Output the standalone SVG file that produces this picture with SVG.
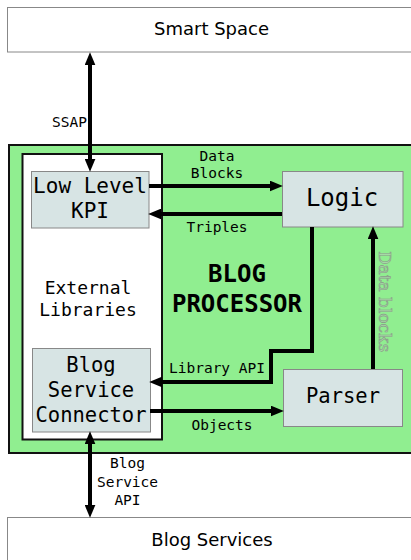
<svg xmlns="http://www.w3.org/2000/svg" width="411" height="560" viewBox="0 0 411 560">
<style>
.ext{fill:#ffffff;stroke:#888888;stroke-width:1}
.comp{fill:#d7e4e4;stroke:#888888;stroke-width:1}
.big{font-family:"DejaVu Sans","Liberation Sans",sans-serif;font-size:18px;fill:#000;text-anchor:middle}
.mono{font-family:"DejaVu Sans Mono","Liberation Mono",monospace;fill:#000;text-anchor:middle}
.lbl{font-family:"DejaVu Sans Mono","Liberation Mono",monospace;font-size:14.5px;fill:#000;text-anchor:middle}
.conn{fill:none;stroke:#000;stroke-width:4}
</style>
<defs>
<marker id="ah" markerUnits="userSpaceOnUse" markerWidth="13" markerHeight="11" refX="2" refY="5" orient="auto-start-reverse" viewBox="0 0 12 10">
<path d="M0,0 L12,5 L0,10 z" fill="#000"/>
</marker>
</defs>
<g id="smart-space">
<rect class="ext" x="7.5" y="7.5" width="420" height="44.5"/>
<text class="big" x="211.5" y="35">Smart Space</text>
</g>
<g id="blog-services">
<rect class="ext" x="7.5" y="517.5" width="420" height="60"/>
<text class="big" x="212" y="546">Blog Services</text>
</g>
<g id="blog-processor">
<rect x="9" y="145" width="420" height="308" fill="#90ee90" stroke="#111" stroke-width="2"/>
<text class="mono" x="237" y="282" font-size="24" font-weight="bold">BLOG</text>
<text class="mono" x="237" y="312" font-size="24" font-weight="bold">PROCESSOR</text>
</g>
<g id="external-libraries">
<rect x="22.5" y="154" width="139.5" height="285.5" fill="#fff" stroke="#111" stroke-width="2"/>
<text class="mono" x="88" y="294" font-size="18">External</text>
<text class="mono" x="88" y="316" font-size="18">Libraries</text>
</g>
<g id="low-level-kpi">
<rect class="comp" x="31.5" y="171.5" width="117.5" height="56.5"/>
<text class="mono" x="90" y="193" font-size="21">Low Level</text>
<text class="mono" x="90" y="218" font-size="21">KPI</text>
</g>
<g id="logic">
<rect class="comp" x="282.5" y="171.5" width="120.5" height="55.5"/>
<text class="mono" x="342" y="206" font-size="24">Logic</text>
</g>
<g id="blog-service-connector">
<rect class="comp" x="32.5" y="348.5" width="118" height="83.5"/>
<text class="mono" x="91" y="372" font-size="20.5">Blog</text>
<text class="mono" x="91" y="397" font-size="20.5">Service</text>
<text class="mono" x="91" y="422" font-size="20.5">Connector</text>
</g>
<g id="parser">
<rect class="comp" x="283.5" y="369.5" width="119" height="57"/>
<text class="mono" x="343" y="403" font-size="20.5">Parser</text>
</g>
<g id="connectors">
<path class="conn" d="M90,63 V161" marker-start="url(#ah)" marker-end="url(#ah)"/>
<path class="conn" d="M149,186 H272" marker-end="url(#ah)"/>
<path class="conn" d="M282,214 H159" marker-end="url(#ah)"/>
<path class="conn" d="M312,227 V351 H271 V382 H160" marker-end="url(#ah)"/>
<path class="conn" d="M150,411 H273" marker-end="url(#ah)"/>
<path class="conn" d="M373,369 V237" marker-end="url(#ah)"/>
<path class="conn" d="M90,442 V507" marker-start="url(#ah)" marker-end="url(#ah)"/>
<text class="lbl" x="87" y="127" text-anchor="end" style="text-anchor:end">SSAP</text>
<text class="lbl" x="217" y="161">Data</text>
<text class="lbl" x="217" y="178">Blocks</text>
<text class="lbl" x="217" y="232">Triples</text>
<text class="lbl" x="217" y="373">Library API</text>
<text class="lbl" x="222" y="430">Objects</text>
<text class="lbl" x="127.5" y="468">Blog</text>
<text class="lbl" x="127.5" y="487">Service</text>
<text class="lbl" x="127.5" y="505">API</text>
<text x="0" y="0" transform="translate(379,301.5) rotate(90)" font-family="'DejaVu Serif','Liberation Serif',serif" font-size="17" text-anchor="middle" fill="#a6d9a6" stroke="#8a9a8a" stroke-width="0.6">Data blocks</text>
</g>
</svg>
